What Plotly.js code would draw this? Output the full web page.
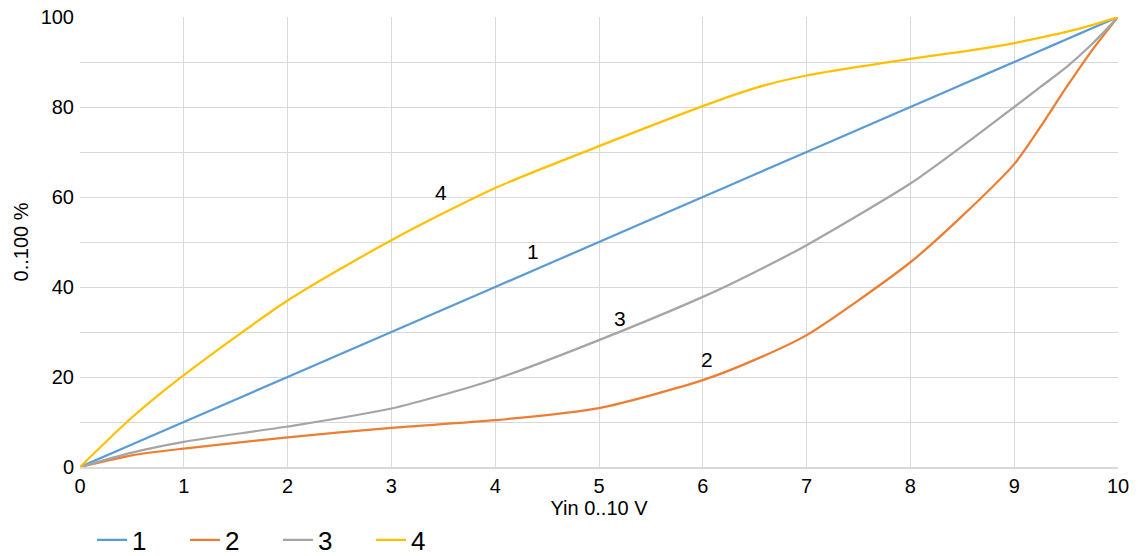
<!DOCTYPE html>
<html><head><meta charset="utf-8">
<script src="https://cdn.plot.ly/plotly-3.0.1.min.js"></script>
<style>html,body{margin:0;padding:0;background:#fff}#chart{width:1138px;height:556px}</style>
</head><body><div id="chart"></div>
<script>
const xVals = [0, 0.5, 1, 2, 3, 4, 5, 6, 6.5, 7, 8, 8.5, 9, 9.25, 9.5, 9.75, 10];
const series1 = [0, 5, 10, 20, 30, 40, 50, 60, 65, 70, 80, 85, 90, 92.5, 95, 97.5, 100];
const series2 = [0, 2.6, 4.1, 6.6, 8.7, 10.4, 13.1, 19.3, 23.8, 29.3, 45.5, 55.8, 67.3, 75.5, 84.3, 92.6, 100];
const series3 = [0, 3.2, 5.6, 9.0, 13.0, 19.5, 28.2, 37.8, 43.3, 49.3, 63.0, 71.3, 80.0, 84.4, 88.8, 94.0, 100];
const series4 = [0, 11, 20.4, 37, 50.4, 62, 71.3, 80.2, 84.2, 87, 90.7, 92.3, 94.2, 95.4, 96.7, 98.2, 100];
const seriesNames = ['1', '2', '3', '4'];
const colors = ['#5B9BD5', '#ED7D31', '#A5A5A5', '#FFC000'];
const labelX = [4.36, 6.04, 5.2, 3.48];
const labelY = [48, 23.8, 33.1, 60.9];
const xTicks = [0,1,2,3,4,5,6,7,8,9,10];
const yTickVals = [0,10,20,30,40,50,60,70,80,90,100];
const yTickText = ['0','','20','','40','','60','','80','','100'];

const allY = [series1, series2, series3, series4];
const traces = allY.map((ys, i) => ({
  x: xVals, y: ys, name: seriesNames[i], type: 'scatter', mode: 'lines',
  line: {color: colors[i], width: 2.25, shape: 'spline', smoothing: 0.7},
  hoverinfo: 'skip'
}));

const annotations = seriesNames.map((n, i) => ({
  x: labelX[i], y: labelY[i], text: n, showarrow: false,
  font: {family: 'Liberation Sans, Arial, sans-serif', size: 21, color: '#000'}
}));

const layout = {
  width: 1138, height: 556,
  margin: {l: 80, r: 20, t: 17, b: 89, autoexpand: false},
  paper_bgcolor: '#fff', plot_bgcolor: '#fff',
  font: {family: 'Liberation Sans, Arial, sans-serif', size: 20, color: '#000'},
  showlegend: true,
  legend: {orientation: 'h', x: 0.0116, xanchor: 'left', y: -0.162, yanchor: 'middle',
           font: {size: 26, color: '#000'}, entrywidth: 48, entrywidthmode: 'pixels',
           traceorder: 'normal'},
  xaxis: {range: [0, 10], tickvals: xTicks, ticktext: xTicks.map(String),
          showgrid: true, gridcolor: '#d9d9d9', gridwidth: 1,
          zeroline: false, showline: true, linecolor: '#d9d9d9', linewidth: 1.5,
          ticks: '', tickfont: {size: 20},
          title: {text: 'Yin 0..10 V', font: {size: 20}, standoff: 2}},
  yaxis: {range: [0, 100], tickvals: yTickVals, ticktext: yTickText,
          showgrid: true, gridcolor: '#d9d9d9', gridwidth: 1,
          zeroline: false, showline: false, ticks: '', tickfont: {size: 20},
          ticklabelstandoff: 5,
          title: {text: '0..100 %', font: {size: 20}, standoff: 6}},
  annotations: annotations
};
Plotly.newPlot('chart', traces, layout, {displayModeBar: false, staticPlot: true});
</script></body></html>
